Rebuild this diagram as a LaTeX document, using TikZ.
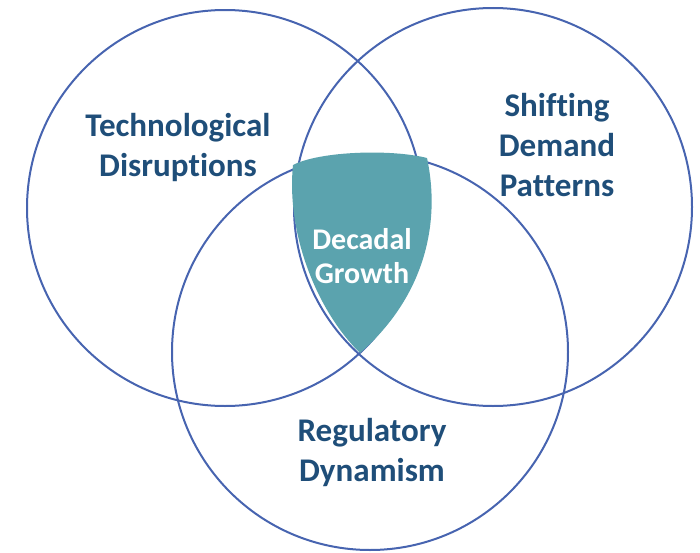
\documentclass[tikz,border=0pt]{standalone}
\usepackage{fontspec}
\setmainfont[Ligatures=NoCommon]{Carlito}
\definecolor{ringblue}{HTML}{4764B0}
\definecolor{tealfill}{HTML}{5BA3AE}
\definecolor{labelblue}{HTML}{1F4E79}
\tikzset{
  ring/.style={draw=ringblue, line width=1.5pt},
  biglabel/.style={text=labelblue, font=\bfseries\fontsize{24.8}{30}\selectfont, align=center},
  corelabel/.style={text=white, font=\bfseries\fontsize{22.5}{25}\selectfont, align=center}
}
\begin{document}
\begin{tikzpicture}[x=0.75pt, y=-0.75pt]
\useasboundingbox (0,0) rectangle (700,553);
% circles
\draw[ring] (225,208) circle (198);
\draw[ring] (493,207) circle (199);
\draw[ring] (370,352) circle (198);
% central overlap
\fill[tealfill] (293,165) .. controls (320,151) and (392,149) .. (427,158)
  .. controls (442,228) and (421,300) .. (360,353)
  .. controls (318,312) and (286,235) .. cycle;
% labels
\node[biglabel] (tech) at (178,147) {Technological\\Disruptions};
\node[biglabel] (demand) at (557,145) {Shifting\\Demand\\Patterns};
\node[biglabel] (reg) at (372,452) {Regulatory\\Dynamism};
\node[corelabel] (core) at (362,256) {Decadal\\Growth};
\end{tikzpicture}
\end{document}
